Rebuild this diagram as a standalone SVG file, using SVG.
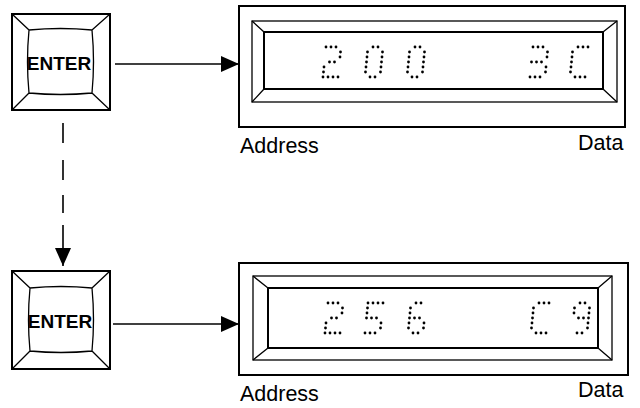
<svg xmlns="http://www.w3.org/2000/svg" xmlns:xlink="http://www.w3.org/1999/xlink" width="640" height="408" viewBox="0 0 640 408">
<style>
.line{fill:none;stroke:#000;stroke-width:1.6}
.outer{fill:#fff;stroke:#000;stroke-width:2}
.bevel{fill:none;stroke:#000;stroke-width:1.3}
.inner{fill:none;stroke:#000;stroke-width:2}
.d circle{fill:#000}
.key{font-family:"Liberation Sans",Arial,sans-serif;font-weight:bold;font-size:19px;text-anchor:middle}
.lbl{font-family:"Liberation Sans",Arial,sans-serif;font-size:21.5px}
</style>
<defs>
<marker id="ah" markerUnits="userSpaceOnUse" markerWidth="20" markerHeight="18" refX="18" refY="8" orient="auto">
<path d="M0,0 L18,8 L0,16 Z" fill="#000"/>
</marker>
<g id="c2" class="d"><circle cx="3" cy="0" r="1.4"/><circle cx="8" cy="0" r="1.4"/><circle cx="13" cy="0" r="1.4"/><circle cx="17.5" cy="5" r="1.4"/><circle cx="17" cy="10" r="1.4"/><circle cx="6.5" cy="15" r="1.4"/><circle cx="11.5" cy="15" r="1.4"/><circle cx="1" cy="20" r="1.4"/><circle cx="0.5" cy="25" r="1.4"/><circle cx="0" cy="30" r="1.4"/><circle cx="5" cy="30" r="1.4"/><circle cx="10" cy="30" r="1.4"/><circle cx="15" cy="30" r="1.4"/></g>
<g id="c0" class="d"><circle cx="8" cy="0" r="1.4"/><circle cx="13" cy="0" r="1.4"/><circle cx="2.5" cy="5" r="1.4"/><circle cx="17.5" cy="5" r="1.4"/><circle cx="2" cy="10" r="1.4"/><circle cx="17" cy="10" r="1.4"/><circle cx="1.5" cy="15" r="1.4"/><circle cx="16.5" cy="15" r="1.4"/><circle cx="1" cy="20" r="1.4"/><circle cx="16" cy="20" r="1.4"/><circle cx="0.5" cy="25" r="1.4"/><circle cx="15.5" cy="25" r="1.4"/><circle cx="5" cy="30" r="1.4"/><circle cx="10" cy="30" r="1.4"/></g>
<g id="c3" class="d"><circle cx="3" cy="0" r="1.4"/><circle cx="8" cy="0" r="1.4"/><circle cx="13" cy="0" r="1.4"/><circle cx="17.5" cy="5" r="1.4"/><circle cx="17" cy="10" r="1.4"/><circle cx="1.5" cy="15" r="1.4"/><circle cx="6.5" cy="15" r="1.4"/><circle cx="11.5" cy="15" r="1.4"/><circle cx="16" cy="20" r="1.4"/><circle cx="15.5" cy="25" r="1.4"/><circle cx="0" cy="30" r="1.4"/><circle cx="5" cy="30" r="1.4"/><circle cx="10" cy="30" r="1.4"/></g>
<g id="cC" class="d"><circle cx="8" cy="0" r="1.4"/><circle cx="13" cy="0" r="1.4"/><circle cx="18" cy="0" r="1.4"/><circle cx="2.5" cy="5" r="1.4"/><circle cx="2" cy="10" r="1.4"/><circle cx="1.5" cy="15" r="1.4"/><circle cx="1" cy="20" r="1.4"/><circle cx="0.5" cy="25" r="1.4"/><circle cx="5" cy="30" r="1.4"/><circle cx="10" cy="30" r="1.4"/><circle cx="15" cy="30" r="1.4"/></g>
<g id="c5" class="d"><circle cx="3" cy="0" r="1.4"/><circle cx="8" cy="0" r="1.4"/><circle cx="13" cy="0" r="1.4"/><circle cx="18" cy="0" r="1.4"/><circle cx="2.5" cy="5" r="1.4"/><circle cx="2" cy="10" r="1.4"/><circle cx="1.5" cy="15" r="1.4"/><circle cx="6.5" cy="15" r="1.4"/><circle cx="11.5" cy="15" r="1.4"/><circle cx="16" cy="20" r="1.4"/><circle cx="15.5" cy="25" r="1.4"/><circle cx="0" cy="30" r="1.4"/><circle cx="5" cy="30" r="1.4"/><circle cx="10" cy="30" r="1.4"/></g>
<g id="c6" class="d"><circle cx="8" cy="0" r="1.4"/><circle cx="13" cy="0" r="1.4"/><circle cx="2.5" cy="5" r="1.4"/><circle cx="2" cy="10" r="1.4"/><circle cx="1.5" cy="15" r="1.4"/><circle cx="6.5" cy="15" r="1.4"/><circle cx="11.5" cy="15" r="1.4"/><circle cx="1" cy="20" r="1.4"/><circle cx="16" cy="20" r="1.4"/><circle cx="0.5" cy="25" r="1.4"/><circle cx="15.5" cy="25" r="1.4"/><circle cx="5" cy="30" r="1.4"/><circle cx="10" cy="30" r="1.4"/></g>
<g id="c9" class="d"><circle cx="8" cy="0" r="1.4"/><circle cx="13" cy="0" r="1.4"/><circle cx="2.5" cy="5" r="1.4"/><circle cx="17.5" cy="5" r="1.4"/><circle cx="2" cy="10" r="1.4"/><circle cx="17" cy="10" r="1.4"/><circle cx="6.5" cy="15" r="1.4"/><circle cx="11.5" cy="15" r="1.4"/><circle cx="16.5" cy="15" r="1.4"/><circle cx="16" cy="20" r="1.4"/><circle cx="15.5" cy="25" r="1.4"/><circle cx="5" cy="30" r="1.4"/><circle cx="10" cy="30" r="1.4"/></g>
</defs>
<rect width="640" height="408" fill="#fff"/>

<g id="key1">
<rect class="outer" x="12" y="14" width="98" height="96"/>
<path class="bevel" d="M29,30 Q60.5,27 92,30 Q95,61.5 92,93 Q60.5,96 29,93 Q26,61.5 29,30 Z M12,14 L29,30 M110,14 L92,30 M110,110 L92,93 M12,110 L29,93"/>
<text class="key" x="59" y="70">ENTER</text>
</g>

<g id="key2">
<rect class="outer" x="12" y="271" width="98" height="98"/>
<path class="bevel" d="M30,288 Q61,285 92,288 Q95,319.5 92,351 Q61,354 30,351 Q27,319.5 30,288 Z M12,271 L30,288 M110,271 L92,288 M110,369 L92,351 M12,369 L30,351"/>
<text class="key" x="60" y="328">ENTER</text>
</g>

<g id="display1">
<rect class="outer" x="239" y="6" width="386" height="121"/>
<rect class="bevel" x="252" y="21" width="365" height="81"/>
<rect class="inner" x="264" y="32" width="339" height="57"/>
<path class="bevel" d="M252,21 L264,32 M617,21 L603,32 M617,102 L603,89 M252,102 L264,89"/>
<use xlink:href="#c2" x="323" y="47"/>
<use xlink:href="#c0" x="365" y="47"/>
<use xlink:href="#c0" x="407" y="47"/>
<use xlink:href="#c3" x="530" y="47"/>
<use xlink:href="#cC" x="570" y="47"/>
</g>

<g id="display2">
<rect class="outer" x="239" y="263" width="389" height="112"/>
<rect class="bevel" x="253" y="276" width="359" height="84"/>
<rect class="inner" x="268" y="288" width="330" height="60"/>
<path class="bevel" d="M253,276 L268,288 M612,276 L598,288 M612,360 L598,348 M253,360 L268,348"/>
<use xlink:href="#c2" x="325" y="303"/>
<use xlink:href="#c5" x="365" y="303"/>
<use xlink:href="#c6" x="408" y="303"/>
<use xlink:href="#cC" x="531" y="303"/>
<use xlink:href="#c9" x="572" y="303"/>
</g>

<g id="labels">
<text class="lbl" x="240" y="153">Address</text>
<text class="lbl" x="578" y="150">Data</text>
<text class="lbl" x="240" y="401">Address</text>
<text class="lbl" x="578" y="397">Data</text>
</g>

<g id="connectors">
<line class="line" x1="115" y1="64" x2="239" y2="64" marker-end="url(#ah)"/>
<line class="line" x1="113" y1="324" x2="239" y2="324" marker-end="url(#ah)"/>
<line class="line" x1="63" y1="123" x2="63" y2="266" stroke-dasharray="20 17 20 15 18 12 60" marker-end="url(#ah)"/>
</g>
</svg>
